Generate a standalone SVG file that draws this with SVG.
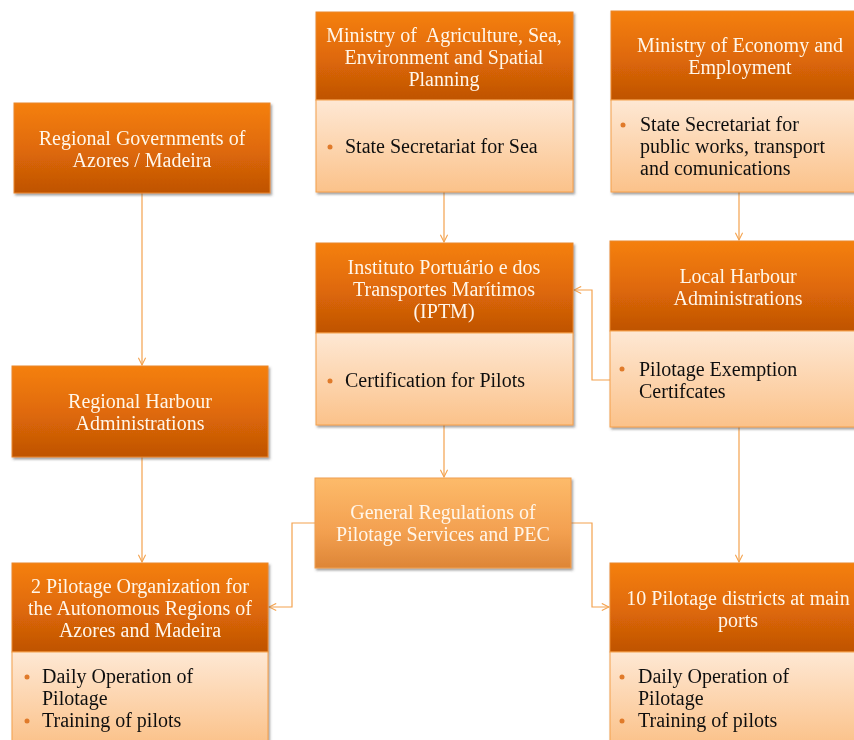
<svg xmlns="http://www.w3.org/2000/svg" width="854" height="740" viewBox="0 0 854 740">
<defs>
<linearGradient id="hdr" x1="0" y1="0" x2="0" y2="1">
<stop offset="0" stop-color="#f5800c"/>
<stop offset="0.5" stop-color="#e06a08"/>
<stop offset="1" stop-color="#bf5304"/>
</linearGradient>
<linearGradient id="bdy" x1="0" y1="0" x2="0" y2="1">
<stop offset="0" stop-color="#fee8d4"/>
<stop offset="1" stop-color="#fbc28a"/>
</linearGradient>
<linearGradient id="gen" x1="0" y1="0" x2="0" y2="1">
<stop offset="0" stop-color="#fdbb6a"/>
<stop offset="0.6" stop-color="#f3a050"/>
<stop offset="1" stop-color="#dd8536"/>
</linearGradient>
<filter id="sh" x="-5%" y="-5%" width="112%" height="115%">
<feDropShadow dx="1.5" dy="2" stdDeviation="1.2" flood-color="#555" flood-opacity="0.55"/>
</filter>
<marker id="arr" viewBox="0 0 10 10" refX="9" refY="5" markerWidth="9" markerHeight="9" orient="auto" markerUnits="userSpaceOnUse">
<path d="M1,1 L9,5 L1,9" fill="none" stroke="#f4a24e" stroke-width="1.2"/>
</marker>
</defs>
<style>
.h{fill:url(#hdr);stroke:#e9882c;stroke-width:1}
.b{fill:url(#bdy);stroke:#f4a04a;stroke-width:1}
.g{fill:url(#gen);stroke:#f0a050;stroke-width:1}
.ht{font-family:"Liberation Serif",serif;font-size:20px;fill:#fff6ea;text-anchor:middle}
.bt{font-family:"Liberation Serif",serif;font-size:20px;fill:#111}
.dot{fill:#e07a2a}
.c{fill:none;stroke:#f4a24e;stroke-width:1.2;marker-end:url(#arr)}
</style>
<rect width="854" height="740" fill="#fff"/>

<g id="connectors">
<path class="c" d="M444,192 V242"/>
<path class="c" d="M739,192 V240"/>
<path class="c" d="M142,193 V365"/>
<path class="c" d="M142,457 V562"/>
<path class="c" d="M444,425 V477"/>
<path class="c" d="M739,427 V562"/>
<path class="c" d="M610,380 H592 V290 H574"/>
<path class="c" d="M315,523 H292 V607 H269"/>
<path class="c" d="M571,523 H592 V607 H609"/>
</g>

<g id="ministry-agriculture" filter="url(#sh)">
<rect class="h" x="316" y="12" width="257" height="88"/>
<rect class="b" x="316" y="100" width="257" height="92"/>
<text class="ht" x="444" y="42" xml:space="preserve">Ministry of  Agriculture, Sea,</text>
<text class="ht" x="444" y="64">Environment and Spatial</text>
<text class="ht" x="444" y="86">Planning</text>
<circle class="dot" cx="330" cy="147" r="2.5"/>
<text class="bt" x="345" y="153">State Secretariat for Sea</text>
</g>

<g id="ministry-economy" filter="url(#sh)">
<rect class="h" x="611" y="11" width="250" height="89"/>
<rect class="b" x="611" y="100" width="250" height="92"/>
<text class="ht" x="740" y="52">Ministry of Economy and</text>
<text class="ht" x="740" y="74">Employment</text>
<circle class="dot" cx="623" cy="125" r="2.5"/>
<text class="bt" x="640" y="131">State Secretariat for</text>
<text class="bt" x="640" y="153">public works, transport</text>
<text class="bt" x="640" y="175">and comunications</text>
</g>

<g id="regional-governments" filter="url(#sh)">
<rect class="h" x="14" y="103" width="256" height="90"/>
<text class="ht" x="142" y="145">Regional Governments of</text>
<text class="ht" x="142" y="167">Azores / Madeira</text>
</g>

<g id="iptm" filter="url(#sh)">
<rect class="h" x="316" y="243" width="257" height="90"/>
<rect class="b" x="316" y="333" width="257" height="92"/>
<text class="ht" x="444" y="274">Instituto Portuário e dos</text>
<text class="ht" x="444" y="296">Transportes Marítimos</text>
<text class="ht" x="444" y="318">(IPTM)</text>
<circle class="dot" cx="330" cy="381" r="2.5"/>
<text class="bt" x="345" y="387">Certification for Pilots</text>
</g>

<g id="local-harbour" filter="url(#sh)">
<rect class="h" x="610" y="241" width="251" height="90"/>
<rect class="b" x="610" y="331" width="251" height="96"/>
<text class="ht" x="738" y="283">Local Harbour</text>
<text class="ht" x="738" y="305">Administrations</text>
<circle class="dot" cx="622" cy="369" r="2.5"/>
<text class="bt" x="639" y="376">Pilotage Exemption</text>
<text class="bt" x="639" y="398">Certifcates</text>
</g>

<g id="regional-harbour" filter="url(#sh)">
<rect class="h" x="12" y="366" width="256" height="91"/>
<text class="ht" x="140" y="408">Regional Harbour</text>
<text class="ht" x="140" y="430">Administrations</text>
</g>

<g id="general-regulations" filter="url(#sh)">
<rect class="g" x="315" y="478" width="256" height="90"/>
<text class="ht" x="443" y="519">General Regulations of</text>
<text class="ht" x="443" y="541">Pilotage Services and PEC</text>
</g>

<g id="pilotage-organization" filter="url(#sh)">
<rect class="h" x="12" y="563" width="256" height="89"/>
<rect class="b" x="12" y="652" width="256" height="92"/>
<text class="ht" x="140" y="593">2 Pilotage Organization for</text>
<text class="ht" x="140" y="615">the Autonomous Regions of</text>
<text class="ht" x="140" y="637">Azores and Madeira</text>
<circle class="dot" cx="27" cy="677" r="2.5"/>
<text class="bt" x="42" y="683">Daily Operation of</text>
<text class="bt" x="42" y="705">Pilotage</text>
<circle class="dot" cx="27" cy="721" r="2.5"/>
<text class="bt" x="42" y="727">Training of pilots</text>
</g>

<g id="pilotage-districts" filter="url(#sh)">
<rect class="h" x="610" y="563" width="251" height="89"/>
<rect class="b" x="610" y="652" width="251" height="92"/>
<text class="ht" x="738" y="605">10 Pilotage districts at main</text>
<text class="ht" x="738" y="627">ports</text>
<circle class="dot" cx="622" cy="677" r="2.5"/>
<text class="bt" x="638" y="683">Daily Operation of</text>
<text class="bt" x="638" y="705">Pilotage</text>
<circle class="dot" cx="622" cy="721" r="2.5"/>
<text class="bt" x="638" y="727">Training of pilots</text>
</g>
</svg>
